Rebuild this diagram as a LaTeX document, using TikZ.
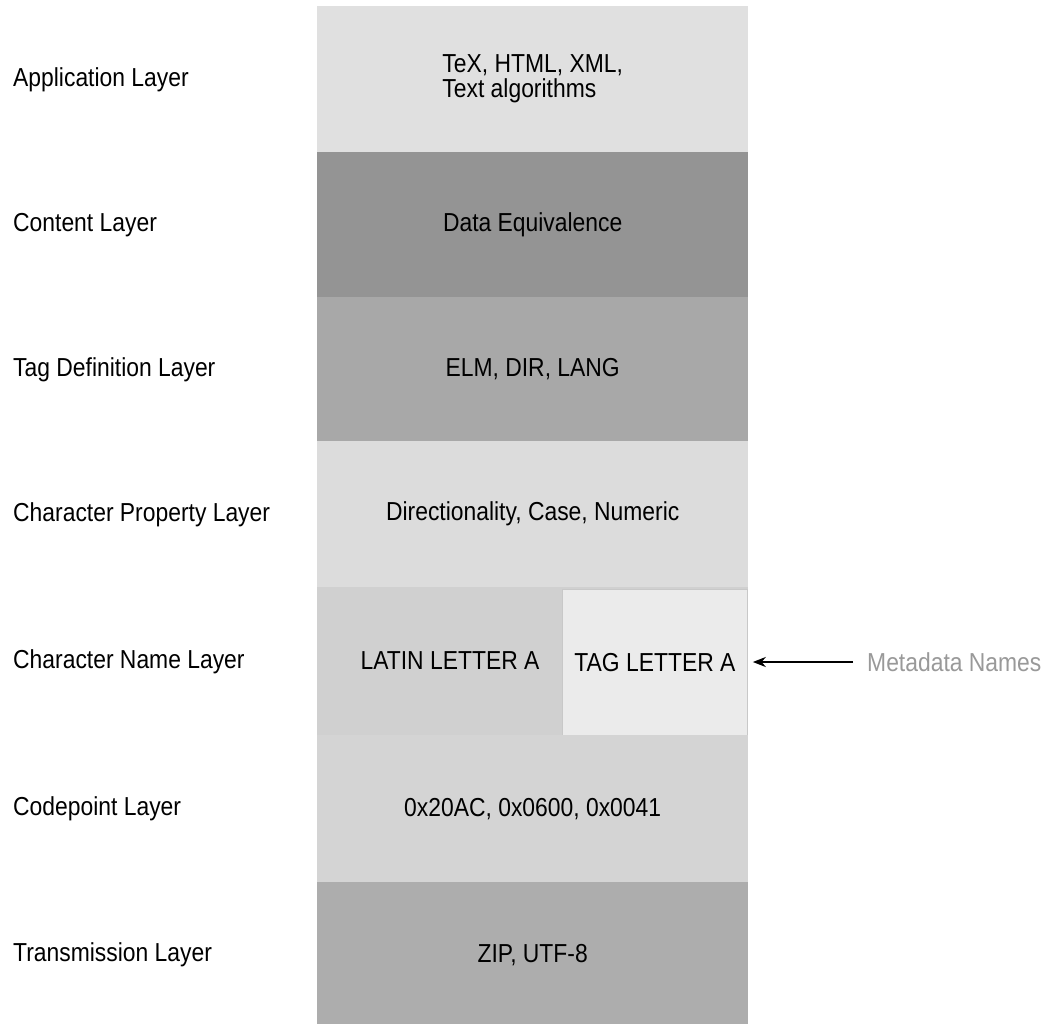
\documentclass[tikz,border=0pt]{standalone}
\usepackage{fontspec}
\setmainfont{Liberation Sans}[FakeStretch=0.88]
\usetikzlibrary{arrows.meta}
\definecolor{cApp}{HTML}{E0E0E0}
\definecolor{cCont}{HTML}{949494}
\definecolor{cTag}{HTML}{A8A8A8}
\definecolor{cProp}{HTML}{DCDCDC}
\definecolor{cName}{HTML}{D0D0D0}
\definecolor{cTagBox}{HTML}{EBEBEB}
\definecolor{cTagLine}{HTML}{C8C8C8}
\definecolor{cCode}{HTML}{D4D4D4}
\definecolor{cTrans}{HTML}{ADADAD}
\definecolor{cMeta}{HTML}{999999}
\begin{document}
\begin{tikzpicture}[x=1pt,y=-1pt,
  every node/.style={font=\fontsize{26}{25}\selectfont, text=black},
  layer/.style={anchor=north west, inner sep=0pt, minimum width=431pt, align=left},
  lbl/.style={anchor=west, inner sep=0pt}]
\useasboundingbox (0,0) rectangle (1051,1024);
% rows
\node[layer, fill=cApp, minimum height=146pt] (app) at (317,6) {TeX, HTML, XML,\\Text algorithms};
\node[layer, fill=cCont, minimum height=145pt] (cont) at (317,152) {Data Equivalence};
\node[layer, fill=cTag, minimum height=144pt] (tagdef) at (317,297) {ELM, DIR, LANG};
\node[layer, fill=cProp, minimum height=146pt] (prop) at (317,441) {Directionality, Case, Numeric};
\node[layer, fill=cName, minimum height=148pt] (name) at (317,587) {};
\node[anchor=center, inner sep=0pt] (latin) at (450,661) {LATIN LETTER A};
\node[anchor=north west, inner sep=0pt, fill=cTagBox, draw=cTagLine, line width=0.8pt,
      minimum width=185pt, minimum height=146pt] (tagl) at (562,589) {TAG LETTER A};
\node[layer, fill=cCode, minimum height=147pt] (code) at (317,735) {0x20AC, 0x0600, 0x0041};
\node[layer, fill=cTrans, minimum height=146pt] (trans) at (317,882) {ZIP, UTF-8};
% left labels
\node[lbl] (l1) at (13,80) {Application Layer};
\node[lbl] (l2) at (13,225) {Content Layer};
\node[lbl] (l3) at (13,370) {Tag Definition Layer};
\node[lbl] (l4) at (13,515) {Character Property Layer};
\node[lbl] (l5) at (13,662) {Character Name Layer};
\node[lbl] (l6) at (13,809) {Codepoint Layer};
\node[lbl] (l7) at (13,955) {Transmission Layer};
% metadata
\node[lbl, text=cMeta] (meta) at (867,662) {Metadata Names};
\draw[line width=2.8pt, -{Stealth[length=13pt,width=10pt]}, shorten >=5pt]
  ([xshift=-14pt]meta.west) -- (tagl.east |- meta.west);
\end{tikzpicture}
\end{document}
